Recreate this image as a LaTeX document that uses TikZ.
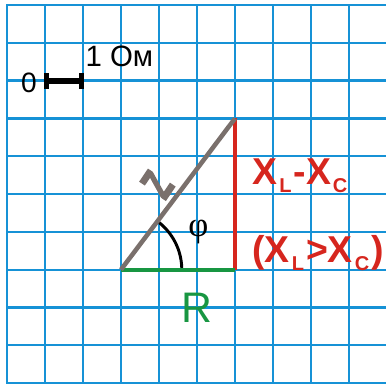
\documentclass[tikz,border=0pt]{standalone}
\usepackage{fontspec}
\setmainfont{Liberation Sans}
\newfontfamily\serifgreek{Liberation Serif}
\newfontfamily\heavyz[FakeBold=4]{Liberation Sans Bold}
\definecolor{gridblue}{RGB}{22,146,214}
\definecolor{zred}{RGB}{214,38,30}
\definecolor{zgreen}{RGB}{24,150,66}
\definecolor{zgray}{RGB}{122,112,108}
\newcommand{\lowidx}[1]{\raisebox{-6pt}{\fontsize{15}{15}\selectfont #1}}

\begin{document}
\begin{tikzpicture}[x=1cm, y=0.995cm,
    gridline/.style={draw=gridblue, line width=1.7pt, line cap=rect},
    side/.style={line width=3.1pt},
    redlabel/.style={text=zred, anchor=base west, inner sep=0pt,
        font=\fontsize{28}{30}\selectfont\bfseries}]

% Page size and clip
\useasboundingbox (-0.184,-0.053) rectangle (9.974,10.132);
\clip (-0.184,-0.053) rectangle (9.974,10.132);

% Grid
\foreach \i in {0,...,9} \draw[gridline] (\i,0) -- (\i,10);
\foreach \j in {0,...,10} \draw[gridline] (0,\j) -- (10.3,\j);

% Scale: 1 cell = 1 Ohm
\coordinate (s0) at (1.03,8);
\coordinate (s1) at (1.97,8);
\draw[line width=4.5pt] (s0) -- (s1);
\draw[line width=3.7pt] (s0) ++(0,-0.21) -- ++(0,0.42);
\draw[line width=3.7pt] (s1) ++(0,-0.21) -- ++(0,0.42);
\node[font=\fontsize{21}{24}\selectfont] (zero) at (0.58,7.94) {0};
\node[anchor=base west, inner sep=0pt, font=\fontsize{22}{24}\selectfont] (unit) at (2.06,8.36) {1 Ом};

% Triangle corners
\coordinate (O) at (3,3);
\coordinate (A) at (6,3);
\coordinate (B) at (6,7);

% Angle
\draw[line width=2.2pt] (O) ++(0:1.6) arc[start angle=0, end angle=53.13, radius=1.6];
\node[font=\serifgreek\fontsize{26}{28}\selectfont] (philabel) at (5.04,4.0) {φ};

% Sides
\draw[side, zred] (A) -- (B);
\draw[side, zgreen] (O) -- (A);
\draw[side, zgray, line width=3.4pt] (O) -- (B);

% Labels
\node[text=zgray, rotate=56, font=\heavyz\fontsize{34}{36}\selectfont] (zlabel) at (3.95,5.25) {\scalebox{0.65}[1]{Z}};
\node[text=zgreen, font=\fontsize{32}{34}\selectfont] (rlabel) at (5,2.0) {R};
\node[redlabel] (xdiff) at (6.45,5.24) {X\hspace{1.5pt}\lowidx{L}\hspace{1.5pt}-X\hspace{1.5pt}\lowidx{C}};
\node[redlabel] (xcond) at (6.45,3.20) {(X\hspace{1.5pt}\lowidx{L}\hspace{1.5pt}>X\hspace{1.5pt}\lowidx{C}\hspace{2pt})};

\end{tikzpicture}
\end{document}
